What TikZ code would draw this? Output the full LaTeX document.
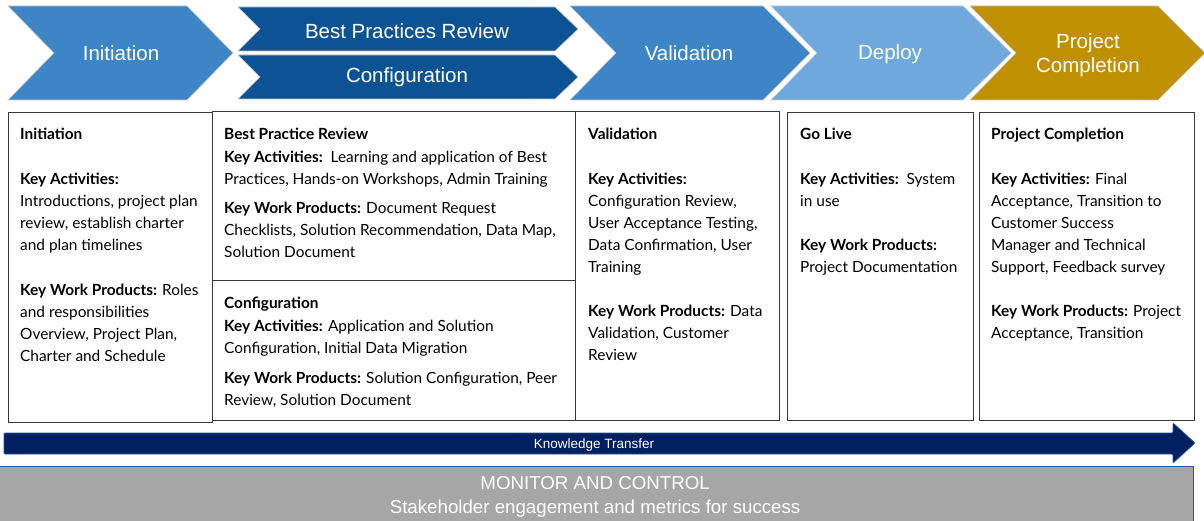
\documentclass[tikz,border=0pt]{standalone}
\usepackage{fontspec}
\setmainfont{Liberation Sans}
\newfontfamily\cellfont{Lato}
\usetikzlibrary{calc}

\definecolor{phasemid}{HTML}{3D85C6}
\definecolor{phasedark}{HTML}{0B5394}
\definecolor{phaselight}{HTML}{6FA8DC}
\definecolor{phasegold}{HTML}{BF9000}
\definecolor{transfernavy}{HTML}{002060}
\definecolor{transferedge}{HTML}{2F5597}
\definecolor{monitorgray}{HTML}{A6A6A6}

\begin{document}
\begin{tikzpicture}[x=1pt,y=-1pt,
  phase/.style={text=white,font=\fontsize{20.5}{24}\selectfont,align=center,inner sep=0pt},
  chevron/.style={draw=black!22,line width=0.6pt},
  cell/.style={draw=black!78,line width=0.9pt,anchor=north west,inner sep=0pt},
  celltext/.style={anchor=north west,inner sep=0pt,align=left,font=\cellfont\fontsize{15.4}{22}\selectfont}]
  \useasboundingbox (0,0) rectangle (1204,521);

  % phase chevrons
  \filldraw[chevron,fill=phasemid] (8,6) -- (187,6) -- (233,53) -- (187,100) -- (8,100) -- (54,53) -- cycle;
  \node[phase] (initiation) at (121,53) {Initiation};

  \filldraw[chevron,fill=phasedark] (238,7) -- (555,7) -- (578,29) -- (555,51) -- (238,51) -- (260,29) -- cycle;
  \node[phase] (review) at (407,31) {Best Practices Review};
  \filldraw[chevron,fill=phasedark] (238,55) -- (555,55) -- (578,77) -- (555,99) -- (238,99) -- (260,77) -- cycle;
  \node[phase] (configuration) at (407,77) {Configuration};

  \filldraw[chevron,fill=phasemid] (570,6) -- (763,6) -- (810,53) -- (763,100) -- (570,100) -- (616,53) -- cycle;
  \node[phase] (validation) at (689,53) {Validation};

  \filldraw[chevron,fill=phaselight] (771,6) -- (963,6) -- (1011,53) -- (963,100) -- (771,100) -- (817,53) -- cycle;
  \node[phase] (deploy) at (890,54) {Deploy};

  \filldraw[chevron,fill=phasegold] (970,6) -- (1158,6) -- (1205,53) -- (1158,100) -- (970,100) -- (1016,53) -- cycle;
  \node[phase] (completion) at (1088,55) {Project\\Completion};

  % detail cells
  \node[cell,minimum width=204,minimum height=310] (initcell) at (8,112) {};
  \node[cell,minimum width=363,minimum height=169] (reviewcell) at (212,111) {};
  \node[cell,minimum width=363,minimum height=140] (configcell) at (212,280) {};
  \node[cell,minimum width=204,minimum height=309] (validcell) at (575,111) {};
  \node[cell,minimum width=186,minimum height=308] (livecell) at (787,112) {};
  \node[cell,minimum width=215,minimum height=308] (completecell) at (979,112) {};

  \node[celltext] (inittext) at (20,128) {\textbf{Initiation}\\[23pt]
    \textbf{Key Activities:}\\
    Introductions, project plan\\
    review, establish charter\\
    and plan timelines\\[23pt]
    \textbf{Key Work Products:} Roles\\
    and responsibilities\\
    Overview, Project Plan,\\
    Charter and Schedule};

  \node[celltext] (reviewtext) at (224,128) {\textbf{Best Practice Review}\\[1pt]
    \textbf{Key Activities:}\ \ Learning and application of Best\\
    Practices, Hands-on Workshops, Admin Training\\[7pt]
    \textbf{Key Work Products:} Document Request\\
    Checklists, Solution Recommendation, Data Map,\\
    Solution Document};

  \node[celltext] (configtext) at (224,297) {\textbf{Configuration}\\[1pt]
    \textbf{Key Activities:} Application and Solution\\
    Configuration, Initial Data Migration\\[8pt]
    \textbf{Key Work Products:} Solution Configuration, Peer\\
    Review, Solution Document};

  \node[celltext] (validtext) at (588,128) {\textbf{Validation}\\[23pt]
    \textbf{Key Activities:}\\
    Configuration Review,\\
    User Acceptance Testing,\\
    Data Confirmation, User\\
    Training\\[22pt]
    \textbf{Key Work Products:} Data\\
    Validation, Customer\\
    Review};

  \node[celltext] (livetext) at (800,128) {\textbf{Go Live}\\[23pt]
    \textbf{Key Activities:}\ \ System\\
    in use\\[22pt]
    \textbf{Key Work Products:}\\
    Project Documentation};

  \node[celltext] (completetext) at (991,128) {\textbf{Project Completion}\\[23pt]
    \textbf{Key Activities:} Final\\
    Acceptance, Transition to\\
    Customer Success\\
    Manager and Technical\\
    Support, Feedback survey\\[22pt]
    \textbf{Key Work Products:} Project\\
    Acceptance, Transition};

  % knowledge transfer band
  \filldraw[fill=transfernavy,draw=transferedge,line width=0.8pt,rounded corners=1pt]
    (4,433) -- (1173,433) -- (1173,423) -- (1195,443) -- (1173,463) -- (1173,454) -- (4,454) -- cycle;
  \node[text=white,font=\fontsize{13.5}{16}\selectfont] (transfer) at (594,445) {Knowledge Transfer};

  % monitor and control
  \node[draw=transferedge,line width=1.2pt,fill=monitorgray,anchor=north west,inner sep=0pt,
    minimum width=1197,minimum height=60,text=white,align=center,
    font=\fontsize{18.7}{24}\selectfont] (monitor) at (-4,466)
    {MONITOR AND CONTROL\\Stakeholder engagement and metrics for success};
\end{tikzpicture}
\end{document}
